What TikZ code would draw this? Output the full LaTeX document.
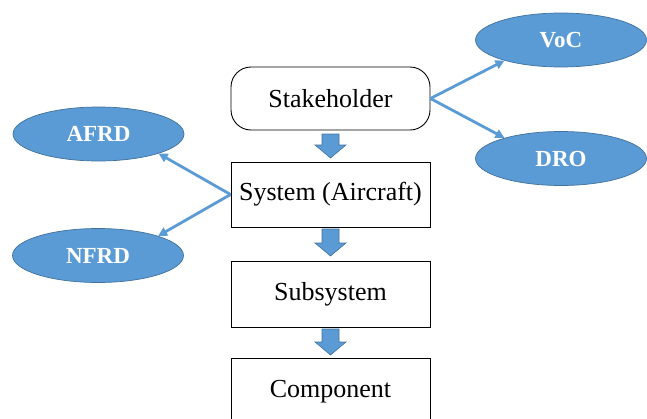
\documentclass[tikz,border=0pt]{standalone}
\usepackage{fontspec}
\setmainfont{Liberation Serif}
\usetikzlibrary{shapes.geometric,arrows.meta}
\definecolor{obl}{HTML}{5B9BD5}
\definecolor{obd}{HTML}{41719C}
\tikzset{
  boxnode/.style={draw=black, line width=0.9pt, minimum width=199pt, inner sep=0pt, font=\fontsize{26}{29}\selectfont},
  ovalnode/.style={ellipse, draw=obd, line width=0.7pt, fill=obl, minimum width=171pt, minimum height=54pt, inner sep=0pt, text=white, font=\bfseries\fontsize{23}{26}\selectfont},
  link/.style={draw=obl, line width=2.8pt, -{Triangle[length=9pt,width=9pt]}},
  blockarr/.style={fill=obl, draw=obd, line width=0.6pt}
}
\begin{document}
\begin{tikzpicture}[x=1pt,y=-1pt]
\useasboundingbox (0,0) rectangle (647,418);
\clip (0,0) rectangle (647,418);
\node[boxnode, rounded corners=20pt, minimum height=63pt] (stake) at (330.5,98.5) {Stakeholder};
\node[boxnode, minimum height=65pt] (sys) at (330.5,194.5) {System (Aircraft)};
\node[boxnode, minimum height=66pt] (sub) at (330.5,294) {Subsystem};
\node[boxnode, minimum height=68pt] (comp) at (330.5,392) {Component};
\node[ovalnode] (voc) at (561,40) {VoC};
\node[ovalnode] (dro) at (561,158.5) {DRO};
\node[ovalnode] (afrd) at (98.5,134) {AFRD};
\node[ovalnode] (nfrd) at (98,255.5) {NFRD};
\draw[link] (stake.east) -- (voc.200);
\draw[link] (stake.east) -- (dro.160);
\draw[link] (sys.west) -- (afrd.342);
\draw[link] (sys.west) -- (nfrd.18);
\foreach \t/\h/\e in {134/145/158, 229/243/256, 329/342/355}{
  \draw[blockarr] (322,\t) -- (339,\t) -- (339,\h) -- (346,\h) -- (330.5,\e) -- (315,\h) -- (322,\h) -- cycle;
}
\end{tikzpicture}
\end{document}
